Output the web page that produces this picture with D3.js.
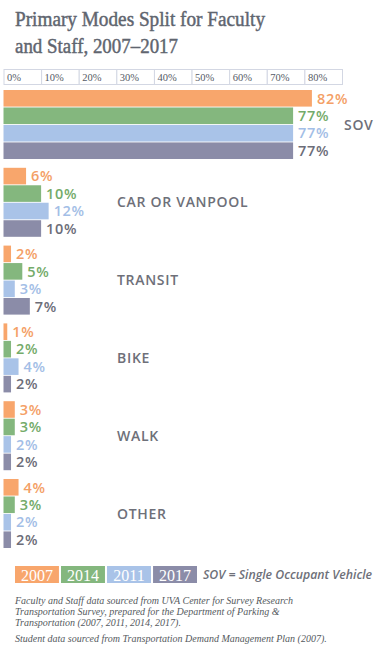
<!DOCTYPE html>
<html><head><meta charset="utf-8">
<script src="https://cdn.jsdelivr.net/npm/d3@7"></script>
<style>
html,body{margin:0;padding:0;background:#fff;}
svg{display:block;}
</style></head>
<body>
<script>
const categories = ["SOV", "CAR OR VANPOOL", "TRANSIT", "BIKE", "WALK", "OTHER"];
const seriesNames = ["2007", "2014", "2011", "2017"];
const v2007 = [82, 6, 2, 1, 3, 4];
const v2014 = [77, 10, 5, 2, 3, 3];
const v2011 = [77, 12, 3, 4, 2, 2];
const v2017 = [77, 10, 7, 2, 2, 2];
const tickValues = [0, 10, 20, 30, 40, 50, 60, 70, 80];
const tickLabels = ["0%", "10%", "20%", "30%", "40%", "50%", "60%", "70%", "80%"];
const titleLines = ["Primary Modes Split for Faculty", "and Staff, 2007\u20132017"];
const legendNote = "SOV = Single Occupant Vehicle";
const footnotes = [
  "Faculty and Staff data sourced from UVA Center for Survey Research",
  "Transportation Survey, prepared for the Department of Parking &",
  "Transportation (2007, 2011, 2014, 2017).",
  "Student data sourced from Transportation Demand Management Plan (2007)."
];

const seriesValues = [v2007, v2014, v2011, v2017];
const barColors = ["#F8A66C", "#84B77E", "#A9C3E8", "#8B8CA8"];
const labelColors = ["#F4A066", "#74AB69", "#A3BEE6", "#6C6D78"];

const W = 391, H = 651;
const svg = d3.select("body").append("svg").attr("width", W).attr("height", H);

// Title
const titleWidths = [250, 163];
svg.append("g").selectAll("text").data(titleLines).join("text")
  .attr("x", 15).attr("y", (d, i) => 26 + i * 26.5)
  .attr("font-family", "'Liberation Serif', 'DejaVu Serif', serif")
  .attr("font-weight", "normal")
  .attr("font-size", 20.5)
  .attr("fill", "#60656F")
  .attr("stroke", "#60656F")
  .attr("stroke-width", 0.45)
  .attr("textLength", (d, i) => titleWidths[i])
  .attr("lengthAdjust", "spacingAndGlyphs")
  .text(d => d);

// Scales
const x = d3.scaleLinear().domain([0, 90]).range([3.5, 342]);
const y = d3.scaleBand().domain(categories).range([90, 548]).paddingInner(0.113).paddingOuter(0);
const yInner = d3.scaleBand().domain(seriesNames).range([0, y.bandwidth()]).paddingInner(0.05);

// Axis cells
const axisG = svg.append("g");
axisG.selectAll("rect").data(tickValues).join("rect")
  .attr("x", d => x(d) + 0.5).attr("y", 69.5)
  .attr("width", d => x(d + 10) - x(d)).attr("height", 15)
  .attr("fill", "#fff").attr("stroke", "#D3D7E3").attr("stroke-width", 1);
axisG.selectAll("text").data(tickValues).join("text")
  .attr("x", d => x(d) + 3.5).attr("y", 81)
  .attr("font-family", "'Liberation Serif', 'DejaVu Serif', serif")
  .attr("font-size", 10.5)
  .attr("fill", "#555a66")
  .text((d, i) => tickLabels[i]);

// Bars
const groups = svg.append("g").selectAll("g").data(categories).join("g")
  .attr("transform", d => `translate(0,${y(d)})`);

groups.each(function(cat, ci) {
  const g = d3.select(this);
  const rows = seriesNames.map((s, si) => ({ s, si, v: seriesValues[si][ci] }));
  g.selectAll("rect").data(rows).join("rect")
    .attr("x", x(0)).attr("y", d => yInner(d.s))
    .attr("width", d => x(d.v) - x(0)).attr("height", yInner.bandwidth())
    .attr("fill", d => barColors[d.si]);
  g.selectAll("text.val").data(rows).join("text")
    .attr("class", "val")
    .attr("x", d => x(d.v) + 5).attr("y", d => yInner(d.s) + yInner.bandwidth() / 2)
    .attr("dy", "0.36em")
    .attr("font-family", "'Open Sans', 'Liberation Sans', sans-serif")
    .attr("font-weight", 600)
    .attr("font-size", 14.5)
    .attr("letter-spacing", 0.7)
    .attr("fill", d => labelColors[d.si])
    .text(d => d.v + "%");
  const maxV = d3.max(rows, d => d.v);
  g.append("text")
    .attr("x", maxV > 40 ? 344 : 117)
    .attr("y", y.bandwidth() / 2)
    .attr("dy", "0.36em")
    .attr("font-family", "'Open Sans', 'Liberation Sans', sans-serif")
    .attr("font-weight", 600)
    .attr("font-size", 14)
    .attr("letter-spacing", 0.7)
    .attr("fill", "#6E7079")
    .text(cat);
});

// Legend
const legX = d3.scaleBand().domain(seriesNames).range([15, 197]).paddingInner(0.045);
const leg = svg.append("g");
leg.selectAll("rect").data(seriesNames).join("rect")
  .attr("x", d => legX(d)).attr("y", 566)
  .attr("width", legX.bandwidth()).attr("height", 17)
  .attr("fill", (d, i) => barColors[i]);
leg.selectAll("text").data(seriesNames).join("text")
  .attr("x", d => legX(d) + legX.bandwidth() / 2).attr("y", 580.5)
  .attr("text-anchor", "middle")
  .attr("font-family", "'Liberation Serif', 'DejaVu Serif', serif")
  .attr("font-size", 16)
  .attr("fill", "#fff")
  .text(d => d);
leg.append("text")
  .attr("x", 203).attr("y", 579)
  .attr("font-family", "'Open Sans', 'Liberation Sans', sans-serif")
  .attr("font-style", "italic")
  .attr("font-weight", 600)
  .attr("font-size", 12.3)
  .attr("fill", "#6E7079")
  .text(legendNote);

// Footnotes
svg.append("g").selectAll("text").data(footnotes).join("text")
  .attr("x", 15).attr("y", (d, i) => [604, 615, 626, 642][i])
  .attr("font-family", "'Liberation Serif', 'DejaVu Serif', serif")
  .attr("font-style", "italic")
  .attr("font-size", 10)
  .attr("fill", "#555a60")
  .text(d => d);
</script>
</body></html>
